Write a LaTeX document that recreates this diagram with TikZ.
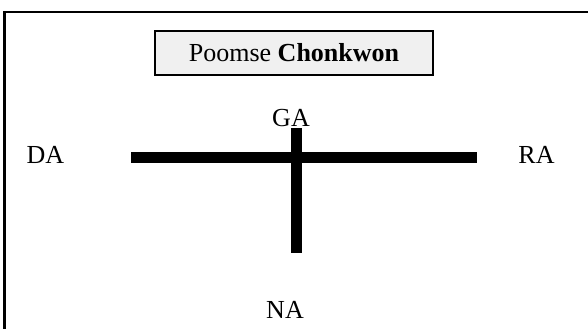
\documentclass[tikz,border=0pt]{standalone}
\usepackage{fontspec}
\setmainfont{Liberation Serif}
\begin{document}
\begin{tikzpicture}[x=0.75pt,y=-0.75pt,
  lbl/.style={anchor=base,inner sep=0pt,font=\fontsize{19.5}{23}\selectfont},
  bar/.style={line width=8.25pt},
  titlebox/.style={draw=black,line width=1.3pt,fill=black!6,minimum width=278*0.75pt,minimum height=44*0.75pt,inner sep=0pt,font=\fontsize{19.5}{23}\selectfont}]
\useasboundingbox (0,0) rectangle (588,329);
% outer frame (only top and left edges visible)
\draw[line width=1.6pt] (588,12) -- (4.5,12) -- (4.5,329);
% title
\node[titlebox] (title) at (294,53) {Poomse \textbf{Chonkwon}};
% cross
\coordinate (hl) at (131,157.5);
\coordinate (hr) at (477,157.5);
\coordinate (vt) at (296.5,128);
\coordinate (vb) at (296.5,253);
\draw[bar] (hl) -- (hr);
\draw[bar] (vt) -- (vb);
% labels
\node[lbl] (ga) at (291,126) {GA};
\node[lbl] (da) at (45.5,163) {DA};
\node[lbl] (ra) at (536.5,163) {RA};
\node[lbl] (na) at (285,318) {NA};
\end{tikzpicture}
\end{document}
